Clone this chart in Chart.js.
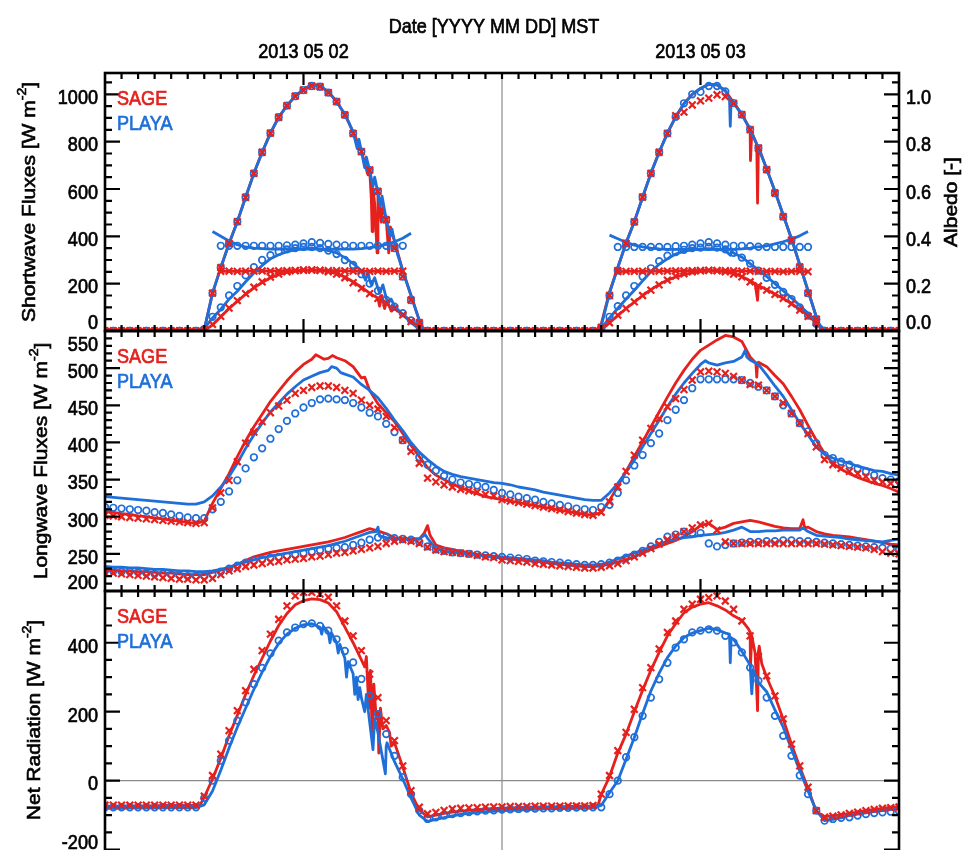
<!DOCTYPE html>
<html>
<head>
<meta charset="utf-8">
<title>Radiation budget – SAGE and PLAYA, 2–3 May 2013</title>
<script src="https://cdn.jsdelivr.net/npm/chart.js@4.4.1/dist/chart.umd.min.js"></script>
<style>
  html, body { margin: 0; padding: 0; background: #fff; overflow: hidden; }
  #wrap { position: relative; width: 968px; height: 850px; overflow: hidden; }
  #wrap canvas { position: absolute; left: 0; }
</style>
</head>
<body>
<div id="wrap">
  <canvas id="swChart" width="968" height="345" style="top:0px"></canvas>
  <canvas id="lwChart" width="968" height="288" style="top:317px"></canvas>
  <canvas id="rnChart" width="968" height="320" style="top:577px"></canvas>
</div>
<script>
// ─── Time axis and tick labels ───────────────────────────────────
// half-hourly samples, hours since 2013-05-02 00:00 MST
const HOURS = Array.from({ length: 97 }, (_, i) => i / 2);
const DAY_LABELS = ['2013 05 02', '2013 05 03'];
const DAY_NOON = [12, 36];
const SW_TICKS = [0, 200, 400, 600, 800, 1000];
const ALBEDO_TICKS = [0, 0.2, 0.4, 0.6, 0.8, 1.0];
const LW_TICKS = [200, 250, 300, 350, 400, 450, 500, 550];
const RN_TICKS = [-200, 0, 200, 400];

// ─── Shortwave (W m-2), lines = observed, markers = modelled ─────
const swDnPlaya = [
  0, 0, 0, 0, 0, 0, 0, 0, 0, 0, 0, 0,
  5, 160, 268, 370, 462, 565, 666, 755, 836, 903, 952, 992,
  1020, 1040, 1036, 1010, 970, 915, 840, 760, 680, 585, 470, 380,
  255, 150, 45, 0, 0, 0, 0, 0, 0, 0, 0, 0,
  0, 0, 0, 0, 0, 0, 0, 0, 0, 0, 0, 0,
  20, 160, 268, 372, 462, 565, 666, 755, 836, 905, 960, 1000,
  1025, 1042, 1040, 1015, 965, 915, 850, 773, 685, 590, 490, 390,
  280, 170, 60, 0, 0, 0, 0, 0, 0, 0, 0, 0,
  0
];
const swDnPlayaSpikes = [[14.75, 880], [15.25, 770], [15.35, 810], [15.7, 690], [15.8, 735],
  [16.2, 610], [16.3, 650], [16.65, 530], [16.75, 570], [17.25, 400], [17.35, 430],
  [17.7, 320], [17.8, 300], [19.25, 5], [29.85, 0], [37.75, 985], [37.8, 865], [37.85, 975], [43.3, 0]];
const swDnSage = [
  0, 0, 0, 0, 0, 0, 0, 0, 0, 0, 0, 0,
  5, 160, 268, 370, 462, 565, 666, 755, 836, 903, 952, 992,
  1020, 1040, 1036, 1010, 970, 915, 840, 760, 680, 585, 470, 380,
  255, 150, 45, 0, 0, 0, 0, 0, 0, 0, 0, 0,
  0, 0, 0, 0, 0, 0, 0, 0, 0, 0, 0, 0,
  30, 165, 268, 372, 462, 565, 666, 755, 836, 905, 960, 1000,
  1025, 1042, 1040, 1015, 965, 915, 850, 773, 685, 590, 490, 390,
  280, 170, 60, 0, 0, 0, 0, 0, 0, 0, 0, 0,
  0
];
const swDnSageSpikes = [[15.9, 660], [16.1, 560], [16.15, 420], [16.2, 600], [16.3, 540],
  [16.45, 330], [16.55, 560], [16.7, 460], [16.8, 530], [17.15, 330], [17.25, 440],
  [19.25, 5], [29.8, 0], [38.95, 860], [39.02, 720], [39.1, 840], [39.4, 790],
  [39.45, 540], [39.55, 770], [43.3, 0]];
const swDnPlayaModel = [
  0, 0, 0, 0, 0, 0, 0, 0, 0, 0, 0, 0,
  5, 160, 268, 370, 462, 565, 666, 755, 836, 903, 952, 992,
  1018, 1035, 1032, 1007, 969, 913, 835, 758, 680, 590, 470, 350,
  230, 131, 35, 0, 0, 0, 0, 0, 0, 0, 0, 0,
  0, 0, 0, 0, 0, 0, 0, 0, 0, 0, 0, 0,
  15, 150, 255, 370, 461, 566, 666, 755, 835, 905, 962, 1000,
  1010, 1035, 1035, 1012, 963, 914, 851, 773, 682, 583, 483, 384,
  271, 160, 50, 0, 0, 0, 0, 0, 0, 0, 0, 0,
  0
];
const swDnSageModel = [
  0, 0, 0, 0, 0, 0, 0, 0, 0, 0, 0, 0,
  5, 160, 268, 370, 462, 565, 666, 755, 836, 903, 952, 992,
  1018, 1035, 1032, 1007, 969, 913, 835, 758, 680, 590, 470, 350,
  230, 131, 35, 0, 0, 0, 0, 0, 0, 0, 0, 0,
  0, 0, 0, 0, 0, 0, 0, 0, 0, 0, 0, 0,
  15, 150, 255, 370, 461, 566, 666, 755, 835, 910, 925, 955,
  972, 984, 998, 990, 962, 914, 851, 773, 682, 583, 483, 384,
  271, 160, 50, 0, 0, 0, 0, 0, 0, 0, 0, 0,
  0
];
const swUpPlaya = [
  0, 0, 0, 0, 0, 0, 0, 0, 0, 0, 0, 0,
  10, 55, 92, 135, 168, 208, 245, 277, 305, 322, 335, 343,
  348, 350, 347, 340, 330, 310, 285, 255, 215, 180, 140, 105,
  70, 35, 8, 0, 0, 0, 0, 0, 0, 0, 0, 0,
  0, 0, 0, 0, 0, 0, 0, 0, 0, 0, 0, 0,
  10, 55, 96, 135, 172, 212, 250, 282, 305, 325, 337, 343,
  346, 348, 346, 340, 330, 312, 285, 258, 230, 200, 170, 140,
  108, 75, 40, 5, 0, 0, 0, 0, 0, 0, 0, 0,
  0
];
const swUpPlayaSpikes = [[15.75, 215], [15.9, 250], [16.1, 195], [16.3, 225], [16.6, 160],
  [16.8, 195], [17.1, 115], [17.3, 135], [37.8, 320], [37.9, 335]];
const swUpPlayaModel = [
  0, 0, 0, 0, 0, 0, 0, 0, 0, 0, 0, 0,
  8, 60, 100, 150, 190, 235, 270, 300, 320, 335, 345, 350,
  355, 355, 350, 340, 325, 300, 279, 240, 200, 170, 131, 103,
  75, 45, 20, 0, 0, 0, 0, 0, 0, 0, 0, 0,
  0, 0, 0, 0, 0, 0, 0, 0, 0, 0, 0, 0,
  12, 60, 105, 150, 190, 230, 265, 295, 318, 333, 343, 350,
  352, 355, 352, 345, 330, 310, 285, 255, 225, 195, 165, 135,
  100, 65, 30, 0, 0, 0, 0, 0, 0, 0, 0, 0,
  0
];
const swUpSage = [
  0, 0, 0, 0, 0, 0, 0, 0, 0, 0, 0, 0,
  2, 25, 60, 95, 125, 155, 182, 205, 225, 238, 248, 253,
  256, 258, 256, 252, 242, 228, 208, 185, 160, 138, 118, 95,
  70, 42, 15, 0, 0, 0, 0, 0, 0, 0, 0, 0,
  0, 0, 0, 0, 0, 0, 0, 0, 0, 0, 0, 0,
  5, 35, 65, 95, 122, 150, 175, 197, 215, 228, 238, 246,
  251, 254, 254, 250, 243, 230, 212, 192, 175, 155, 138, 115,
  92, 65, 35, 0, 0, 0, 0, 0, 0, 0, 0, 0,
  0
];
const swUpSageSpikes = [[16.6, 105], [16.75, 150], [16.9, 95], [17.05, 128], [17.3, 85],
  [39.3, 200], [39.45, 130], [39.55, 190]];
const swUpSageModel = [
  0, 0, 0, 0, 0, 0, 0, 0, 0, 0, 0, 0,
  2, 28, 62, 97, 128, 158, 185, 208, 228, 240, 250, 255,
  258, 258, 256, 250, 240, 225, 204, 180, 158, 138, 118, 95,
  68, 40, 15, 0, 0, 0, 0, 0, 0, 0, 0, 0,
  0, 0, 0, 0, 0, 0, 0, 0, 0, 0, 0, 0,
  5, 35, 67, 95, 123, 150, 173, 195, 215, 232, 242, 250,
  254, 256, 255, 250, 240, 229, 208, 190, 173, 155, 138, 115,
  88, 62, 35, 0, 0, 0, 0, 0, 0, 0, 0, 0,
  0
];

// ─── Albedo (-) ──────────────────────────────────────────────────
const albPlayaModel = [
  null, null, null, null, null, null, null, null, null, null, null, null,
  null, null, 0.36, 0.36, 0.36, 0.36, 0.36, 0.36, 0.36, 0.36, 0.362, 0.365,
  0.37, 0.375, 0.372, 0.368, 0.365, 0.362, 0.36, 0.36, 0.36, 0.36, 0.36, 0.36,
  0.36, null, null, null, null, null, null, null, null, null, null, null,
  null, null, null, null, null, null, null, null, null, null, null, null,
  null, null, 0.355, 0.355, 0.355, 0.355, 0.355, 0.355, 0.355, 0.358, 0.36, 0.365,
  0.37, 0.375, 0.37, 0.365, 0.36, 0.36, 0.358, 0.356, 0.355, 0.355, 0.355, 0.355,
  0.355, 0.355, null, null, null, null, null, null, null, null, null, null,
  null
];
const albPlaya = [
  null, null, null, null, null, null, null, null, null, null, null, null,
  null, 0.42, 0.40, 0.38, 0.365, 0.355, 0.35, 0.348, 0.346, 0.346, 0.346, 0.346,
  0.346, 0.346, 0.346, 0.346, 0.346, 0.346, 0.346, 0.348, 0.352, 0.358, 0.366, 0.377,
  0.392, 0.413, null, null, null, null, null, null, null, null, null, null,
  null, null, null, null, null, null, null, null, null, null, null, null,
  null, 0.405, 0.39, 0.375, 0.363, 0.355, 0.35, 0.347, 0.345, 0.345, 0.345, 0.345,
  0.345, 0.345, 0.345, 0.345, 0.345, 0.347, 0.35, 0.355, 0.36, 0.368, 0.377, 0.388,
  0.402, 0.42, null, null, null, null, null, null, null, null, null, null,
  null
];
const albSage = [
  null, null, null, null, null, null, null, null, null, null, null, null,
  null, null, 0.252, 0.253, 0.252, 0.253, 0.253, 0.254, 0.253, 0.254, 0.255, 0.255,
  0.256, 0.257, 0.256, 0.255, 0.255, 0.254, 0.253, 0.253, 0.252, 0.253, 0.252, 0.253,
  0.253, null, null, null, null, null, null, null, null, null, null, null,
  null, null, null, null, null, null, null, null, null, null, null, null,
  null, null, 0.251, 0.252, 0.252, 0.253, 0.252, 0.253, 0.253, 0.254, 0.254, 0.255,
  0.256, 0.256, 0.255, 0.255, 0.254, 0.253, 0.253, 0.252, 0.252, 0.252, 0.251, 0.252,
  0.252, 0.251, null, null, null, null, null, null, null, null, null, null,
  null
];

// ─── Longwave (W m-2): upper pair = outgoing, lower pair = incoming
const lwUpSage = [
  307, 306, 304, 303, 301, 300, 298, 297, 295, 294, 292, 291,
  294, 318, 338, 358, 381, 402, 421, 438, 455, 469, 483, 495,
  505, 512, 515, 513, 514, 510, 502, 487, 470, 452, 440, 428,
  412, 396, 381, 366, 356, 350, 344, 339, 335, 331, 327, 325,
  323, 321, 319, 317, 315, 313, 311, 309, 307, 305, 303, 302,
  306, 322, 341, 361, 381, 401, 421, 441, 461, 480, 497, 512,
  524, 531, 538, 544, 542, 536, 515, 508, 502, 490, 479, 462,
  444, 423, 403, 385, 372, 364, 358, 353, 349, 345, 342, 338,
  333
];
const lwUpSageSpikes = [[12.75, 518], [13.25, 512], [13.75, 517], [15.7, 488],
  [39.35, 507], [39.4, 488], [39.45, 507]];
const lwUpPlaya = [
  327, 326, 325, 324, 323, 322, 321, 320, 319, 318, 317, 317,
  320, 328, 340, 354, 372, 392, 410, 426, 441, 453, 465, 475,
  484, 489, 494, 497, 500, 492, 488, 478, 470, 460, 446, 430,
  416, 400, 387, 377, 368, 361, 357, 354, 352, 350, 348, 346,
  345, 343, 340, 338, 336, 333, 331, 329, 327, 325, 323, 322,
  322, 332, 345, 360, 376, 394, 412, 430, 448, 465, 480, 493,
  505, 507, 504, 507, 509, 515, 511, 505, 491, 476, 462, 444,
  426, 410, 394, 384, 379, 375, 372, 368, 365, 362, 361, 358,
  356
];
const lwUpPlayaSpikes = [[13.7, 502], [14.25, 494], [36.3, 510], [38.7, 524], [38.8, 515]];
const lwUpSageModel = [
  302, 301, 300, 299, 298, 297, 296, 295, 294, 293, 292, 291,
  292, 312, 332, 349, 374, 399, 414, 428, 440, 449, 457, 466,
  470, 474, 476, 476, 474, 470, 466, 457, 450, 445, 435, 420,
  403, 388, 372, 352, 347, 343, 340, 337, 335, 333, 330, 328,
  323, 321, 319, 317, 315, 313, 311, 309, 307, 305, 303, 302,
  306, 320, 340, 361, 383, 403, 419, 432, 448, 459, 471, 484,
  495, 496, 495, 493, 489, 484, 478, 477, 470, 462, 453, 439,
  426, 412, 394, 377, 370, 365, 361, 358, 354, 349, 347, 345,
  343
];
const lwUpPlayaModel = [
  313, 312, 311, 310, 309, 308, 306, 305, 303, 301, 299, 298,
  298, 310, 320, 334, 349, 365, 380, 392, 405, 418, 429, 439,
  447, 453, 458, 459, 458, 457, 453, 447, 440, 435, 425, 414,
  403, 393, 380, 370, 362, 355, 350, 346, 344, 342, 340, 336,
  332, 330, 327, 325, 323, 320, 318, 316, 314, 311, 310, 309,
  313, 316, 332, 349, 369, 383, 399, 412, 430, 444, 457, 473,
  485, 485, 485, 485, 485, 484, 480, 475, 470, 462, 450, 439,
  426, 415, 399, 383, 379, 374, 370, 365, 361, 356, 352, 350,
  348
];
const lwDnSage = [
  228, 228, 227, 227, 226, 226, 225, 224, 224, 223, 222, 222,
  222, 225, 228, 231, 236, 241, 246, 249, 252, 254, 256, 258,
  260, 262, 264, 266, 269, 272, 276, 280, 284, 281, 277, 272,
  270, 270, 270, 288, 262, 258, 256, 253, 251, 249, 247, 246,
  244, 243, 242, 241, 240, 239, 237, 236, 235, 234, 233, 233,
  234, 236, 239, 242, 246, 251, 256, 260, 264, 268, 273, 280,
  288, 291, 283, 286, 291, 293, 295, 293, 290, 287, 285, 284,
  284, 286, 280, 277, 275, 274, 273, 271, 269, 267, 265, 263,
  262
];
const lwDnSageSpikes = [[19.3, 278], [19.65, 275], [42.2, 296], [42.3, 285]];
const lwDnPlaya = [
  233, 232, 232, 231, 231, 230, 229, 229, 228, 227, 227, 226,
  226, 227, 229, 232, 236, 239, 242, 245, 247, 249, 251, 253,
  255, 257, 259, 261, 264, 267, 271, 275, 279, 286, 272, 270,
  270, 270, 270, 271, 257, 254, 252, 251, 250, 249, 248, 247,
  246, 245, 244, 243, 242, 241, 239, 238, 237, 236, 235, 235,
  236, 239, 243, 247, 251, 255, 259, 263, 267, 270, 272, 273,
  275, 276, 277, 279, 282, 286, 280, 280, 281, 281, 282, 282,
  282, 280, 275, 274, 273, 272, 270, 269, 268, 267, 266, 268,
  270
];
const lwDnPlayaSpikes = [[16.4, 280], [16.6, 274], [19.35, 276], [42.2, 285]];
const lwDnSageModel = [
  224, 224, 223, 222, 221, 220, 219, 218, 217, 216, 216, 215,
  215, 217, 222, 227, 230, 233, 235, 237, 239, 240, 242, 243,
  244, 246, 247, 249, 251, 252, 254, 256, 258, 260, 264, 267,
  269, 267, 264, 259, 255, 253, 252, 251, 250, 248, 246, 245,
  242, 241, 240, 239, 237, 236, 235, 234, 233, 232, 231, 231,
  232, 234, 237, 241, 246, 251, 257, 263, 269, 274, 280, 285,
  289, 291, 282, 266, 264, 264, 264, 264, 264, 264, 264, 264,
  264, 264, 264, 263, 262, 261, 260, 259, 258, 256, 253, 251,
  250
];
const lwDnPlayaModel = [
  227, 227, 226, 226, 225, 224, 223, 223, 222, 221, 220, 220,
  220, 222, 226, 230, 234, 238, 241, 243, 245, 246, 247, 249,
  251, 253, 255, 257, 258, 259, 262, 265, 269, 272, 273, 271,
  270, 269, 266, 260, 256, 254, 252, 251, 250, 249, 248, 247,
  246, 245, 244, 243, 241, 240, 239, 238, 237, 236, 235, 235,
  236, 238, 241, 245, 249, 254, 260, 266, 273, 276, 280, 278,
  278, 264, 260, 262, 264, 265, 266, 266, 267, 267, 268, 268,
  267, 267, 266, 265, 264, 263, 262, 261, 260, 259, 258, 257,
  256
];

// ─── Net radiation (W m-2) ───────────────────────────────────────
const rnSage = [
  -74, -74, -74, -73, -73, -73, -73, -72, -72, -72, -72, -72,
  -48, 5, 65, 130, 190, 250, 305, 355, 405, 450, 485, 510,
  522, 527, 525, 515, 490, 445, 400, 350, 290, 200, 160, 110,
  40, -35, -85, -105, -100, -95, -91, -88, -86, -84, -82, -81,
  -80, -79, -78, -77, -77, -76, -76, -75, -75, -74, -74, -73,
  -40, 12, 80, 135, 200, 262, 320, 372, 420, 455, 487, 503,
  512, 516, 507, 495, 478, 465, 430, 375, 300, 245, 178, 106,
  40, -22, -90, -104, -102, -99, -95, -91, -87, -83, -80, -77,
  -75
];
const rnSageSpikes = [[5.75, -70], [15.7, 330], [15.8, 360], [15.95, 210], [16.05, 320],
  [16.15, 130], [16.25, 280], [16.4, 180], [16.55, 80], [16.65, 210], [16.8, 150],
  [17.2, 140], [17.3, 100], [29.8, -72], [38.9, 440], [39.02, 330], [39.1, 420],
  [39.3, 370], [39.45, 203], [39.55, 390], [39.7, 340]];
const rnPlaya = [
  -80, -80, -80, -79, -79, -79, -79, -78, -78, -78, -78, -78,
  -70, -30, 30, 95, 155, 210, 265, 315, 360, 398, 425, 442,
  452, 455, 445, 430, 400, 355, 310, 240, 170, 140, 100, 55,
  5, -50, -100, -118, -112, -107, -102, -98, -95, -92, -90, -88,
  -87, -86, -85, -84, -83, -82, -82, -81, -81, -80, -80, -79,
  -72, -35, 0, 62, 125, 195, 260, 312, 357, 390, 415, 428,
  435, 442, 438, 428, 410, 375, 335, 285, 258, 205, 155, 92,
  29, -30, -87, -116, -112, -108, -101, -97, -93, -90, -87, -84,
  -82
];
const rnPlayaSpikes = [[13.1, 425], [13.2, 447], [13.6, 400], [13.7, 428], [14.1, 370],
  [14.2, 395], [14.6, 300], [14.7, 345], [15.1, 250], [15.2, 300], [15.3, 235],
  [15.4, 270], [15.7, 200], [15.8, 250], [16.2, 90], [16.3, 180], [16.95, 20],
  [17.05, 110], [37.75, 425], [37.8, 342], [37.85, 415], [39.1, 252], [39.2, 320]];
const rnSageModel = [
  -71, -71, -71, -71, -71, -71, -71, -71, -71, -71, -71, -71,
  -45, 15, 77, 145, 203, 261, 323, 377, 425, 468, 507, 536,
  546, 546, 541, 532, 507, 463, 420, 377, 309, 241, 174, 116,
  43, -29, -77, -96, -92, -86, -82, -80, -79, -78, -77, -76,
  -76, -75, -75, -75, -74, -74, -74, -74, -73, -73, -73, -72,
  -39, 15, 87, 140, 207, 270, 328, 382, 430, 463, 497, 512,
  526, 531, 536, 521, 497, 463, 420, 360, 304, 246, 179, 106,
  43, -19, -87, -106, -103, -99, -95, -91, -87, -83, -80, -78,
  -76
];
const rnPlayaModel = [
  -77, -77, -77, -77, -77, -77, -77, -77, -77, -77, -77, -77,
  -50, 0, 58, 116, 174, 227, 280, 327, 369, 406, 430, 444,
  454, 456, 449, 435, 410, 376, 343, 295, 246, 193, 135, 72,
  10, -39, -87, -111, -106, -101, -97, -94, -91, -89, -87, -86,
  -84, -83, -82, -81, -81, -80, -80, -79, -79, -78, -78, -77,
  -77, -39, 0, 68, 126, 188, 241, 294, 342, 386, 410, 430,
  435, 439, 435, 420, 401, 372, 328, 290, 241, 188, 130, 72,
  15, -39, -87, -116, -111, -108, -106, -101, -97, -94, -92, -90,
  -88
];

// ─── Styling ─────────────────────────────────────────────────────
const RED = '#e6201d';
const BLUE = '#1f6fd9';
const GUIDE = '#8a8a8a';
const FONT = '21px "Liberation Sans", Arial, Helvetica, sans-serif';
const SUP_FONT = '14px "Liberation Sans", Arial, Helvetica, sans-serif';
const SQUEEZE = 0.86;   // glyphs are narrower than they are tall
const INK = 0.7;        // slight stroke so the lettering reads a bit heavier

function pts(values, spikes) {
  const out = values.map((v, i) => ({ x: HOURS[i], y: v }));
  (spikes || []).forEach(([x, y]) => out.push({ x, y }));
  return out.sort((a, b) => a.x - b.x);
}

function lineSet(data, color, order, axis) {
  return {
    data, borderColor: color, borderWidth: 2.8, pointRadius: 0, tension: 0,
    borderJoinStyle: 'round', fill: false, spanGaps: false,
    yAxisID: axis || 'y', order
  };
}

function markSet(data, color, cross, order, axis) {
  return {
    data, showLine: false, borderColor: color, backgroundColor: 'rgba(0,0,0,0)',
    pointStyle: cross ? 'crossRot' : 'circle',
    pointRadius: cross ? 4.8 : 3.3,
    pointBorderWidth: cross ? 2.2 : 1.7,
    pointBorderColor: color,
    yAxisID: axis || 'y', order
  };
}

function ink(ctx, str, x, y) {
  ctx.fillText(str, x, y);
  ctx.strokeText(str, x, y);
}

function text(ctx, str, x, y, align, color, rotate) {
  ctx.save();
  ctx.translate(x, y);
  ctx.scale(SQUEEZE, 1);
  if (rotate) ctx.rotate(rotate);
  ctx.font = FONT;
  ctx.fillStyle = ctx.strokeStyle = color || '#000';
  ctx.lineWidth = INK;
  ctx.textAlign = align;
  ctx.textBaseline = 'middle';
  ink(ctx, str, 0, 0);
  ctx.restore();
}

// vertical axis title with a superscript exponent, e.g. [W m-2]
function unitTitle(ctx, x, y, main, sup, tail) {
  ctx.save();
  ctx.translate(x, y);
  ctx.scale(SQUEEZE, 1);
  ctx.rotate(-Math.PI / 2);
  ctx.fillStyle = ctx.strokeStyle = '#000';
  ctx.lineWidth = INK;
  ctx.textBaseline = 'alphabetic';
  ctx.textAlign = 'left';
  ctx.font = FONT; const w1 = ctx.measureText(main).width; const w3 = ctx.measureText(tail).width;
  ctx.font = SUP_FONT; const w2 = ctx.measureText(sup).width;
  let cx = -(w1 + w2 + w3) / 2;
  ctx.font = FONT; ink(ctx, main, cx, 7); cx += w1;
  ctx.font = SUP_FONT; ink(ctx, sup, cx, -3); cx += w2;
  ctx.font = FONT; ink(ctx, tail, cx, 7);
  ctx.restore();
}

// IDL-style box: inward ticks on all four sides, labels, legend, titles
function idlFrame(cfg) {
  return {
    id: 'idlFrame',
    beforeDatasetsDraw(chart) {
      const { ctx, chartArea: a, scales } = chart;
      ctx.save();
      ctx.strokeStyle = GUIDE;
      ctx.lineWidth = 1.2;
      ctx.beginPath();
      const xm = scales.x.getPixelForValue(24);
      ctx.moveTo(xm, a.top); ctx.lineTo(xm, a.bottom);
      if (cfg.zeroLine) {
        const y0 = scales.y.getPixelForValue(0);
        ctx.moveTo(a.left, y0); ctx.lineTo(a.right, y0);
      }
      ctx.stroke();
      ctx.restore();
    },
    afterDatasetsDraw(chart) {
      const { ctx, chartArea: a, scales } = chart;
      ctx.save();
      ctx.strokeStyle = '#000';
      ctx.lineWidth = 2.2;
      ctx.beginPath();
      for (let h = 1; h < 48; h++) {
        const x = scales.x.getPixelForValue(h);
        const len = DAY_NOON.includes(h) ? 12 : 6;
        ctx.moveTo(x, a.top); ctx.lineTo(x, a.top + len);
        ctx.moveTo(x, a.bottom); ctx.lineTo(x, a.bottom - len);
      }
      cfg.axes.forEach(ax => {
        const s = scales[ax.id];
        const x0 = ax.side === 'left' ? a.left : a.right;
        const dir = ax.side === 'left' ? 1 : -1;
        const ratio = Math.round(ax.major / ax.minor);
        const k0 = Math.ceil(s.min / ax.minor - 1e-9);
        const k1 = Math.floor(s.max / ax.minor + 1e-9);
        for (let k = k0; k <= k1; k++) {
          const v = k * ax.minor;
          if (Math.abs(v - s.min) < 1e-9 || Math.abs(v - s.max) < 1e-9) continue;
          const y = s.getPixelForValue(v);
          const len = ((k % ratio) + ratio) % ratio === 0 ? 15 : 7;
          ctx.moveTo(x0, y); ctx.lineTo(x0 + dir * len, y);
        }
      });
      ctx.stroke();
      ctx.lineWidth = 2.6;
      ctx.strokeRect(a.left, a.top, a.right - a.left, a.bottom - a.top);
      ctx.restore();

      const floor = cfg.labelFloor != null ? cfg.labelFloor : a.bottom - 8;
      cfg.axes.forEach(ax => {
        if (!ax.labels) return;
        const s = scales[ax.id];
        ax.labels.forEach(v => {
          let y = s.getPixelForValue(v) + 4;
          y = Math.min(Math.max(y, a.top + 14), floor);
          if (ax.side === 'left') text(ctx, ax.fmt(v), a.left - 7, y, 'right');
          else text(ctx, ax.fmt(v), a.right + 7, y, 'left');
        });
      });

      const mid = cfg.titleY != null ? cfg.titleY : (a.top + a.bottom) / 2;
      unitTitle(ctx, cfg.titleX, mid, cfg.title, '-2', ']');
      if (cfg.rightTitle) text(ctx, cfg.rightTitle, 952, mid, 'center', '#000', -Math.PI / 2);

      text(ctx, 'SAGE', a.left + 12, a.top + 26, 'left', RED);
      text(ctx, 'PLAYA', a.left + 12, a.top + 51, 'left', BLUE);

      if (cfg.dateAxis) {
        text(ctx, 'Date [YYYY MM DD] MST', 494, 27, 'center');
        DAY_NOON.forEach((h, i) => {
          text(ctx, DAY_LABELS[i], scales.x.getPixelForValue(h), 52, 'center');
        });
      }
    }
  };
}

function panel(canvasId, padTop, padBottom, yRange, y2Range, datasets, frameCfg) {
  const scales = {
    x: { type: 'linear', min: 0, max: 48, display: false },
    y: { type: 'linear', min: yRange[0], max: yRange[1], display: false }
  };
  if (y2Range) scales.y2 = { type: 'linear', min: y2Range[0], max: y2Range[1], display: false };
  return new Chart(document.getElementById(canvasId), {
    type: 'line',
    data: { datasets },
    options: {
      responsive: false,
      animation: false,
      events: [],
      layout: { padding: { left: 105, right: 69, top: padTop, bottom: padBottom } },
      scales,
      plugins: { legend: { display: false }, tooltip: { enabled: false } }
    },
    plugins: [idlFrame(frameCfg)]
  });
}

const intFmt = v => String(v);

// ─── Shortwave fluxes and albedo ─────────────────────────────────
panel('swChart', 73, 14, [0, 1090], [0, 1.09], [
  markSet(pts(albSage), RED, true, 0, 'y2'),
  markSet(pts(swDnSageModel), RED, true, 0),
  markSet(pts(swUpSageModel), RED, true, 0),
  markSet(pts(albPlayaModel), BLUE, false, 1, 'y2'),
  markSet(pts(swDnPlayaModel), BLUE, false, 1),
  markSet(pts(swUpPlayaModel), BLUE, false, 1),
  lineSet(pts(albPlaya), BLUE, 2, 'y2'),
  lineSet(pts(swDnPlaya, swDnPlayaSpikes), BLUE, 2),
  lineSet(pts(swUpPlaya, swUpPlayaSpikes), BLUE, 2),
  lineSet(pts(albSage), RED, 3, 'y2'),
  lineSet(pts(swDnSage, swDnSageSpikes), RED, 3),
  lineSet(pts(swUpSage, swUpSageSpikes), RED, 3)
], {
  title: 'Shortwave Fluxes [W m', titleX: 29, rightTitle: 'Albedo [-]', dateAxis: true,
  axes: [
    { id: 'y', side: 'left', major: 200, minor: 50, labels: SW_TICKS, fmt: intFmt },
    { id: 'y2', side: 'right', major: 0.2, minor: 0.05, labels: ALBEDO_TICKS, fmt: v => v.toFixed(1) }
  ]
});

// ─── Longwave fluxes ─────────────────────────────────────────────
panel('lwChart', 14, 14, [200, 550], null, [
  markSet(pts(lwUpSageModel), RED, true, 0),
  markSet(pts(lwDnSageModel), RED, true, 0),
  markSet(pts(lwUpPlayaModel), BLUE, false, 1),
  markSet(pts(lwDnPlayaModel), BLUE, false, 1),
  lineSet(pts(lwUpPlaya, lwUpPlayaSpikes), BLUE, 2),
  lineSet(pts(lwDnPlaya, lwDnPlayaSpikes), BLUE, 2),
  lineSet(pts(lwUpSage, lwUpSageSpikes), RED, 3),
  lineSet(pts(lwDnSage, lwDnSageSpikes), RED, 3)
], {
  title: 'Longwave Fluxes [W m', titleX: 41,
  axes: [
    { id: 'y', side: 'left', major: 50, minor: 10, labels: LW_TICKS, fmt: intFmt },
    { id: 'y', side: 'right', major: 50, minor: 10 }
  ]
});

// ─── Net radiation (box continues below the visible page) ────────
panel('rnChart', 14, 17, [-288, 550], null, [
  markSet(pts(rnSageModel), RED, true, 0),
  markSet(pts(rnPlayaModel), BLUE, false, 1),
  lineSet(pts(rnPlaya, rnPlayaSpikes), BLUE, 2),
  lineSet(pts(rnSage, rnSageSpikes), RED, 3)
], {
  title: 'Net Radiation [W m', titleX: 34, titleY: 143, zeroLine: true, labelFloor: 266,
  axes: [
    { id: 'y', side: 'left', major: 200, minor: 50, labels: RN_TICKS, fmt: intFmt },
    { id: 'y', side: 'right', major: 200, minor: 50 }
  ]
});
</script>
</body>
</html>
